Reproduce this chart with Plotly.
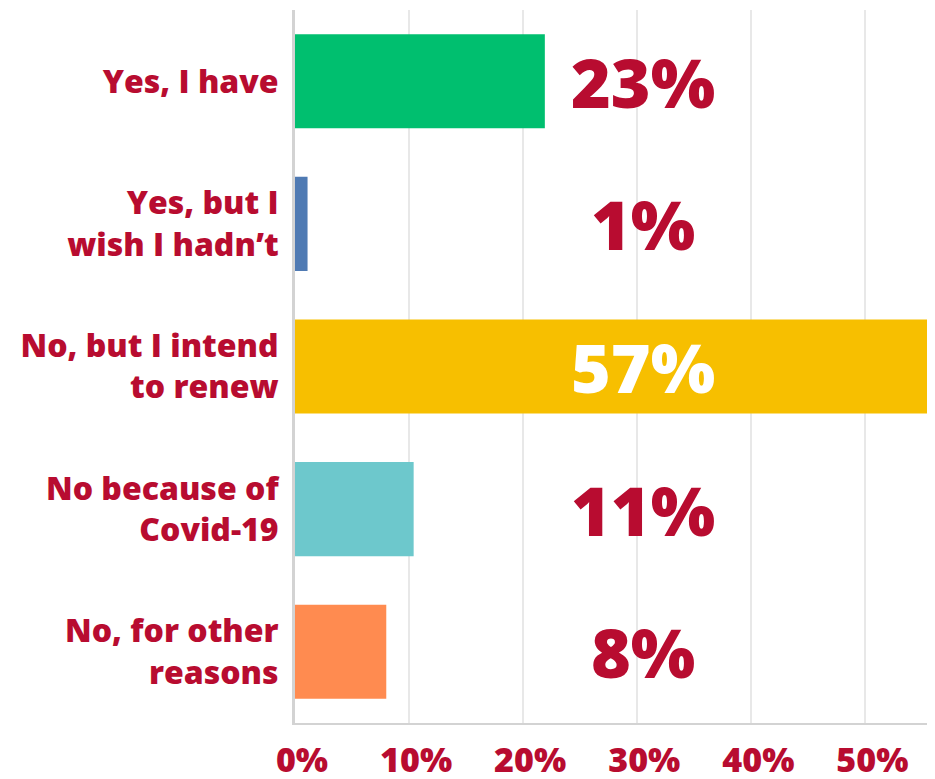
import plotly.graph_objects as go

# Dados
categorias = [
    "Yes, I have",
    "Yes, but I<br>wish I hadn’t",
    "No, but I intend<br>to renew",
    "No because of<br>Covid-19",
    "No, for other<br>reasons",
]
valores_barra = [21.9, 1.1, 57.0, 10.4, 8.0]
rotulos = ["23%", "1%", "57%", "11%", "8%"]
cores_barra = ["#00BF6F", "#4F7AB3", "#F7BF00", "#6DC8CC", "#FF8B50"]
cores_rotulo = ["#B80C30", "#B80C30", "#FFFFFF", "#B80C30", "#B80C30"]
ticks_x = [0, 10, 20, 30, 40, 50]
ticks_x_texto = ["0%", "10%", "20%", "30%", "40%", "50%"]

CRIMSON = "#B80C30"
FONTE = "Open Sans"

fig = go.Figure(
    go.Bar(
        x=valores_barra,
        y=categorias,
        orientation="h",
        marker=dict(color=cores_barra, line=dict(width=0)),
        hoverinfo="skip",
    )
)

for cat, txt, cor in zip(categorias, rotulos, cores_rotulo):
    fig.add_annotation(
        x=30.5, y=cat, text=txt, showarrow=False,
        font=dict(family=FONTE, size=68, color=cor, weight=800),
        xanchor="center", yanchor="middle",
    )

# a página tem 8px de margem no body, então o figure é 8px menor
fig.update_layout(
    width=927, height=771,
    paper_bgcolor="white", plot_bgcolor="white",
    margin=dict(l=287, r=0, t=2, b=56),
    bargap=0.34,
    showlegend=False,
    font=dict(family=FONTE, color=CRIMSON),
)
fig.update_xaxes(
    range=[0, 56.1],
    tickvals=ticks_x, ticktext=ticks_x_texto,
    tickfont=dict(family=FONTE, size=34, color=CRIMSON, weight=800),
    showgrid=True, gridcolor="#E8E8E8", gridwidth=2,
    showline=True, linecolor="#D3D3D3", linewidth=2,
    zeroline=False, ticks="", ticklabelstandoff=6, ticklabelshift=7,
    automargin=False,
)
fig.update_yaxes(
    autorange="reversed",
    tickvals=categorias, ticktext=categorias,
    tickfont=dict(family=FONTE, size=32, color=CRIMSON, weight=800),
    showgrid=False,
    showline=True, linecolor="#D3D3D3", linewidth=3,
    ticks="", ticklabelstandoff=7,
    automargin=False,
)

fig.write_html("out.html")
